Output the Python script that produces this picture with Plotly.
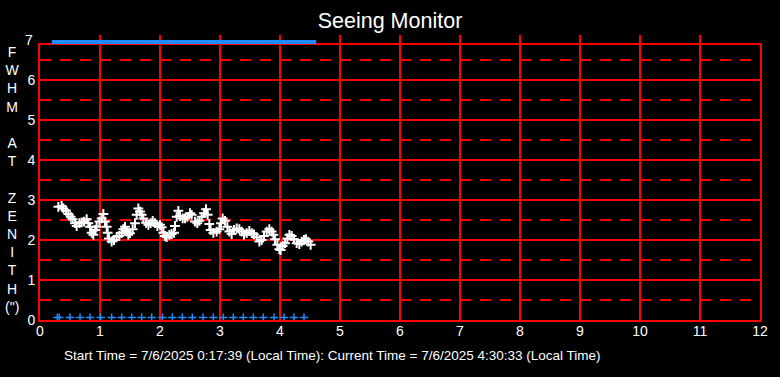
import plotly.graph_objects as go

# FWHM seeing values (hours since midnight, arcsec)
seeing_t = [0.306, 0.361, 0.389, 0.433, 0.472, 0.511, 0.544, 0.583, 0.611, 0.656, 0.694, 0.733, 0.778, 0.806,
            0.833, 0.861, 0.889, 0.917, 0.944, 0.989, 1.028, 1.056, 1.083, 1.111, 1.128, 1.150, 1.194, 1.233,
            1.278, 1.322, 1.361, 1.389, 1.417, 1.444, 1.472, 1.500, 1.544, 1.583, 1.611, 1.639, 1.667, 1.694,
            1.722, 1.767, 1.806, 1.844, 1.878, 1.917, 1.956, 2.000, 2.028, 2.056, 2.083, 2.111, 2.156, 2.194,
            2.233, 2.250, 2.278, 2.306, 2.333, 2.378, 2.417, 2.456, 2.500, 2.528, 2.583, 2.622, 2.656, 2.694,
            2.733, 2.767, 2.794, 2.822, 2.844, 2.889, 2.944, 2.989, 3.017, 3.044, 3.083, 3.122, 3.156, 3.194,
            3.233, 3.278, 3.322, 3.361, 3.400, 3.444, 3.489, 3.528, 3.567, 3.611, 3.656, 3.694, 3.733, 3.778,
            3.822, 3.861, 3.889, 3.917, 3.956, 3.989, 4.011, 4.044, 4.083, 4.122, 4.156, 4.194, 4.233, 4.278,
            4.322, 4.361, 4.400, 4.433, 4.472, 4.511]
seeing_fwhm = [2.83, 2.85, 2.79, 2.73, 2.65, 2.58, 2.52, 2.42, 2.35, 2.42, 2.44, 2.46, 2.52, 2.42,
               2.33, 2.18, 2.13, 2.25, 2.33, 2.46, 2.54, 2.65, 2.46, 2.33, 2.18, 2.04, 1.96, 2.00,
               2.08, 2.10, 2.18, 2.27, 2.33, 2.21, 2.13, 2.17, 2.27, 2.42, 2.63, 2.79, 2.71, 2.63,
               2.54, 2.43, 2.38, 2.42, 2.48, 2.42, 2.35, 2.38, 2.32, 2.18, 2.10, 2.07, 2.13, 2.15,
               2.18, 2.35, 2.58, 2.73, 2.60, 2.54, 2.54, 2.58, 2.67, 2.63, 2.46, 2.42, 2.48, 2.58,
               2.67, 2.77, 2.63, 2.40, 2.25, 2.18, 2.21, 2.27, 2.42, 2.54, 2.48, 2.33, 2.21, 2.15,
               2.25, 2.29, 2.27, 2.21, 2.13, 2.17, 2.23, 2.17, 2.14, 2.07, 1.96, 2.00, 2.10, 2.21,
               2.27, 2.21, 2.13, 2.02, 1.88, 1.77, 1.75, 1.85, 1.92, 2.04, 2.13, 2.10, 2.02, 1.92,
               1.90, 1.96, 2.00, 2.02, 1.96, 1.88]

# status markers (blue)
status_t = [0.289, 0.322, 0.500, 0.667, 0.833, 1.011, 1.194, 1.361, 1.528, 1.694, 1.861, 2.039, 2.206,
            2.372, 2.539, 2.717, 2.889, 3.056, 3.222, 3.389, 3.556, 3.722, 3.900, 4.067, 4.233, 4.400, 4.510]
status_low = [0.06] * len(status_t)
status_high = [0.3] * len(status_t)   # on the thin top strip axis

x_ticks = list(range(0, 13))
y_ticks = list(range(0, 7))

title_text = "Seeing Monitor"
ytitle_letters = ["F", "W", "H", "M", "\u00a0", "A", "T", "\u00a0", "Z", "E", "N", "I", "T", "H", "(\")"]
footer_text = "Start Time = 7/6/2025 0:17:39 (Local Time): Current Time = 7/6/2025 4:30:33 (Local Time)"

FONT = "Arial, 'Liberation Sans', sans-serif"
BLUE = "#1E8CFF"

TOP, BOT = 35, 57
H = 377 - TOP - BOT        # paper height in px (35..320)
def py(p):                 # pixel row -> paper fraction
    return (320 - p) / H
def px(p):
    return (p - 40) / 720

fig = go.Figure()
fig.add_trace(go.Scatter(x=status_t[:-1], y=status_low[:-1], mode="markers", cliponaxis=False,
                         marker=dict(symbol="cross-thin", size=6, line=dict(color=BLUE, width=1.5)),
                         showlegend=False, hoverinfo="skip"))
fig.add_trace(go.Scatter(x=status_t, y=status_high, mode="markers", cliponaxis=False, yaxis="y2",
                         marker=dict(symbol="line-ew", size=8, line=dict(color=BLUE, width=4)),
                         showlegend=False, hoverinfo="skip"))
fig.add_trace(go.Scatter(x=seeing_t, y=seeing_fwhm, mode="markers", cliponaxis=False,
                         marker=dict(symbol="cross-thin", size=7, line=dict(color="white", width=2)),
                         showlegend=False))

fig.update_layout(
    width=780, height=377,
    paper_bgcolor="black", plot_bgcolor="black",
    margin=dict(l=40, r=20, t=TOP, b=BOT, autoexpand=False),
    title=dict(text=title_text, x=0.5, xref="container", xanchor="center",
               y=1 - 20 / 377, yref="container", yanchor="middle",
               font=dict(color="white", size=21.5, family=FONT)),
    showlegend=False,
    xaxis=dict(range=[0, 12], tickvals=x_ticks, ticktext=[str(v) for v in x_ticks],
               showgrid=True, gridcolor="red", gridwidth=2, zeroline=False,
               showline=True, linecolor="red", linewidth=2, mirror=True,
               ticks="", ticklabelstandoff=-3, tickfont=dict(color="white", size=14, family=FONT)),
    yaxis=dict(domain=[0, 275 / H], range=[0, 6.875], tickvals=y_ticks, ticktext=[str(v) for v in y_ticks],
               showgrid=True, gridcolor="red", gridwidth=2, zeroline=False,
               showline=True, linecolor="red", linewidth=2, mirror=True,
               ticks="", tickfont=dict(color="white", size=14, family=FONT),
               minor=dict(dtick=0.5, showgrid=True, gridcolor="red", gridwidth=2, griddash="11px,9px")),
    yaxis2=dict(domain=[275 / H, 1], range=[0, 1], anchor="x", visible=False, showgrid=False,
                zeroline=False, fixedrange=True),
)

fig.add_annotation(text="7", xref="paper", yref="paper", x=px(35), y=py(40), xanchor="right", yanchor="middle",
                   showarrow=False, font=dict(color="white", size=14, family=FONT))
fig.add_annotation(text="<br>".join(ytitle_letters), xref="paper", yref="paper",
                   x=px(12), y=py(179), xanchor="center", yanchor="middle",
                   showarrow=False, align="center", font=dict(color="white", size=14, family=FONT))
fig.add_annotation(text=footer_text, xref="paper", yref="paper",
                   x=px(62), y=py(355), xanchor="left", yanchor="middle",
                   showarrow=False, font=dict(color="white", size=13.5, family=FONT))

fig.write_html("out.html", config={"displayModeBar": False},
               post_script="document.body.style.margin='0';")
